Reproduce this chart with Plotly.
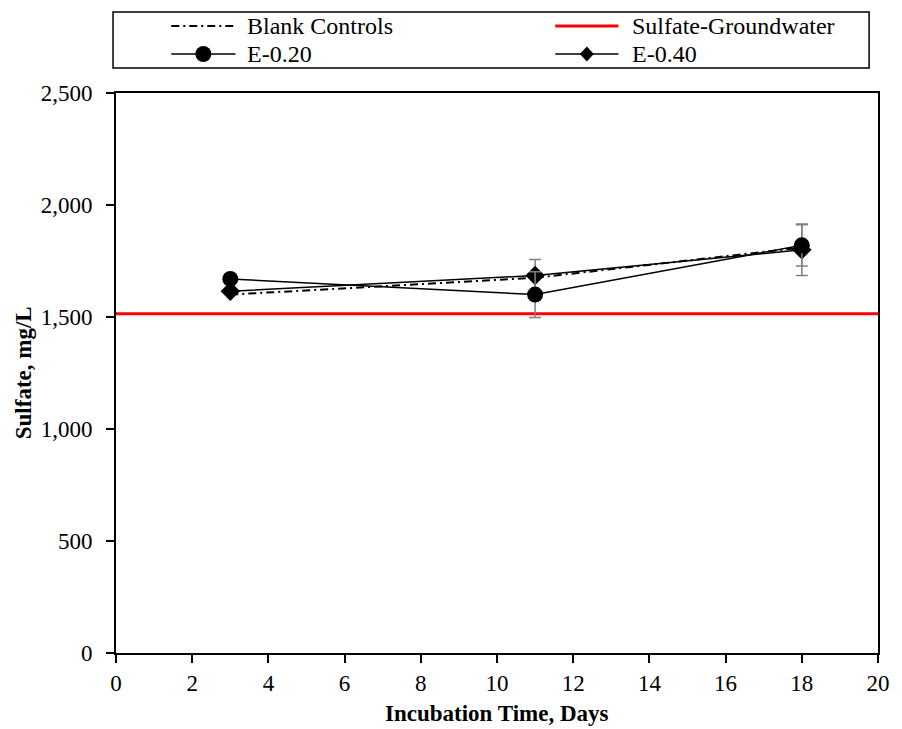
import plotly.graph_objects as go

# ---- data ----
days = [3, 11, 18]
blank_controls = [1600, 1675, 1810]
e020 = [1670, 1600, 1820]
e020_err = [0, 102, 92]
e040 = [1615, 1685, 1800]
e040_err = [0, 72, 115]
gw_x = [0, 20]
gw_sulfate = [1515, 1515]

x_ticks = list(range(0, 21, 2))
y_ticks = [0, 500, 1000, 1500, 2000, 2500]

FONT = "Liberation Serif"
W, H = 902, 729
ML, MR, MT, MB = 116, 14, 93, 76
PW, PH = W - ML - MR, H - MT - MB


def px2paper_x(px):
    return (px - ML) / PW


def px2paper_y(py):
    return (H - MB - py) / PH


fig = go.Figure()

fig.add_trace(go.Scatter(x=gw_x, y=gw_sulfate, mode="lines",
                         line=dict(color="#ff0000", width=3),
                         name="Sulfate-Groundwater", showlegend=False))
fig.add_trace(go.Scatter(x=days, y=blank_controls, mode="lines",
                         line=dict(color="black", width=2, dash="8px,4px,2px,4px"),
                         name="Blank Controls", showlegend=False))
fig.add_trace(go.Scatter(x=days, y=e040, mode="lines+markers",
                         line=dict(color="black", width=1.5),
                         marker=dict(symbol="diamond", size=15, color="black"),
                         error_y=dict(type="data", array=e040_err, color="#808080",
                                      thickness=1.5, width=6, visible=True),
                         name="E-0.40", showlegend=False))
fig.add_trace(go.Scatter(x=days, y=e020, mode="lines+markers",
                         line=dict(color="black", width=1.5),
                         marker=dict(symbol="circle", size=16, color="black"),
                         error_y=dict(type="data", array=e020_err, color="#808080",
                                      thickness=1.5, width=6, visible=True),
                         name="E-0.20", showlegend=False))

# ---- manual legend ----
shapes = []
annotations = []
shapes.append(dict(type="rect", xref="paper", yref="paper",
                   x0=px2paper_x(113), x1=px2paper_x(879),
                   y0=px2paper_y(68), y1=px2paper_y(12),
                   line=dict(color="black", width=1.5), fillcolor="white", layer="below"))

legend_items = [
    ("Blank Controls", 0, 0, "dash", None),
    ("Sulfate-Groundwater", 1, 0, "red", None),
    ("E-0.20", 0, 1, "solid", "circle"),
    ("E-0.40", 1, 1, "solid", "diamond"),
]
col_line = [(172, 237), (561, 625)]
col_text = [247, 637]
row_y = [26, 54]
for label, col, row, style, marker in legend_items:
    x0, x1 = col_line[col]
    yy = px2paper_y(row_y[row])
    if style == "dash":
        ln = dict(color="black", width=2, dash="8px,4px,2px,4px")
    elif style == "red":
        ln = dict(color="#ff0000", width=3)
    else:
        ln = dict(color="black", width=1.5)
    shapes.append(dict(type="line", xref="paper", yref="paper",
                       x0=px2paper_x(x0), x1=px2paper_x(x1), y0=yy, y1=yy, line=ln))
    xm = px2paper_x((x0 + x1) / 2)
    if marker == "circle":
        shapes.append(dict(type="circle", xref="paper", yref="paper",
                           xsizemode="pixel", ysizemode="pixel",
                           xanchor=xm, yanchor=yy, x0=-8, x1=8, y0=-8, y1=8,
                           fillcolor="black", line=dict(color="black", width=0)))
    elif marker == "diamond":
        shapes.append(dict(type="path", xref="paper", yref="paper",
                           xsizemode="pixel", ysizemode="pixel",
                           xanchor=xm, yanchor=yy,
                           path="M 0 7.5 L 7 0 L 0 -7.5 L -7 0 Z",
                           fillcolor="black", line=dict(color="black", width=0)))
    annotations.append(dict(text=label, xref="paper", yref="paper",
                            x=px2paper_x(col_text[col]), y=yy,
                            xanchor="left", yanchor="middle", showarrow=False,
                            font=dict(family=FONT, size=24, color="black")))

annotations.append(dict(text="<b>Sulfate, mg/L</b>", xref="paper", yref="paper",
                        x=px2paper_x(22), y=0.5, xanchor="center", yanchor="middle",
                        textangle=-90, showarrow=False,
                        font=dict(family=FONT, size=23, color="black")))
annotations.append(dict(text="<b>Incubation Time, Days</b>", xref="paper", yref="paper",
                        x=0.5, y=px2paper_y(713), xanchor="center", yanchor="middle",
                        showarrow=False,
                        font=dict(family=FONT, size=23, color="black")))

fig.update_layout(
    width=W, height=H,
    margin=dict(l=ML, r=MR, t=MT, b=MB),
    paper_bgcolor="white", plot_bgcolor="white",
    font=dict(family=FONT, size=23, color="black"),
    showlegend=False,
    shapes=shapes, annotations=annotations,
)
fig.update_xaxes(range=[0, 20], tickvals=x_ticks, ticks="outside", ticklen=8,
                 tickwidth=1.5, tickcolor="black", showline=True, linecolor="black",
                 linewidth=2, mirror=True, showgrid=False, zeroline=False,
                 ticklabelstandoff=0,
                 tickfont=dict(family=FONT, size=23, color="black"))
fig.update_yaxes(range=[0, 2500], tickvals=y_ticks, tickformat=",", ticks="outside",
                 ticklen=8, tickwidth=1.5, tickcolor="black", showline=True,
                 linecolor="black", linewidth=2, mirror=True, showgrid=False,
                 zeroline=False, ticklabelstandoff=9,
                 tickfont=dict(family=FONT, size=23, color="black"))

fig.write_html("out.html")
